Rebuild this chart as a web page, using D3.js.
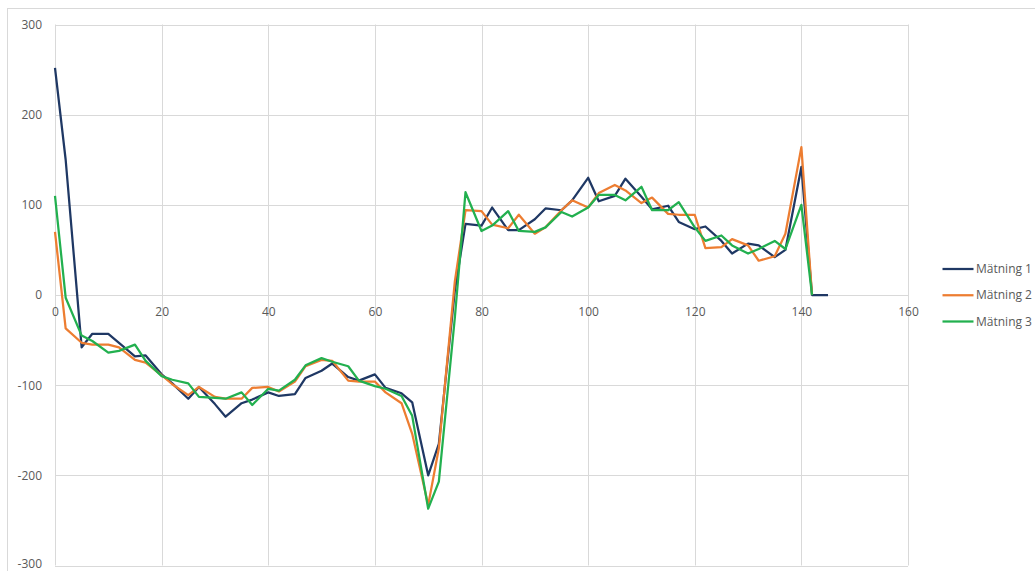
<!DOCTYPE html>
<html>
<head>
<meta charset="utf-8">
<script src="https://cdn.jsdelivr.net/npm/d3@7"></script>
<style>
  html, body { margin: 0; padding: 0; background: #fff; }
  svg { display: block; }
  text { font-family: "Open Sans", "Liberation Sans", sans-serif; fill: #595959; }
</style>
</head>
<body>
<svg id="chart" width="1035" height="571"></svg>
<script>
const xValues = [0,2,5,7,10,12,15,17,20,22,25,27,30,32,35,37,40,42,45,47,50,52,55,57,60,62,65,67,70,72,75,77,80,82,85,87,90,92,95,97,100,102,105,107,110,112,115,117,120,122,125,127,130,132,135,137,140,142,145];

const seriesNames = ["Mätning 1", "Mätning 2", "Mätning 3"];
const seriesColors = ["#1f3864", "#ed7d31", "#22b04f"];

const matning1 = [252,150,-58,-43,-43,-53,-68,-67,-88,-98,-115,-102,-121,-135,-120,-116,-108,-112,-110,-92,-84,-76,-91,-95,-88,-103,-109,-119,-200,-165,5,79,77,97,72,72,84,96,94,105,130,104,110,129,109,95,99,81,73,76,60,46,57,55,42,50,142,0,0];
const matning2 = [70,-37,-53,-55,-55,-58,-72,-75,-89,-99,-111,-102,-113,-115,-115,-103,-102,-107,-96,-79,-72,-73,-95,-96,-96,-108,-120,-154,-233,-170,15,94,93,78,74,89,68,75,94,105,97,113,122,116,102,108,90,89,89,52,53,62,55,38,43,68,164,0];
const matning3 = [110,-3,-45,-51,-64,-62,-55,-73,-90,-94,-98,-113,-114,-115,-108,-122,-104,-106,-94,-78,-70,-74,-79,-95,-101,-104,-112,-134,-237,-207,-25,114,71,77,93,71,70,75,92,87,97,111,111,105,120,94,94,103,75,60,66,55,46,51,60,51,100,0];

const xTicks = [0,20,40,60,80,100,120,140,160];
const yTicks = [-300,-200,-100,0,100,200,300];

const allSeries = [matning1, matning2, matning3];

const svg = d3.select("#chart");

// outer chart border
svg.append("rect")
  .attr("x", 7.5).attr("y", 8.5)
  .attr("width", 1100).attr("height", 700)
  .attr("fill", "none").attr("stroke", "#d9d9d9").attr("stroke-width", 1);

const x = d3.scaleLinear().domain([0, 160]).range([55, 908]);
const y = d3.scaleLinear().domain([-300, 300]).range([565.5, 24.5]);

// gridlines
const grid = svg.append("g");
grid.selectAll("line.v").data(xTicks).join("line")
  .attr("x1", d => Math.round(x(d)) + 0.5).attr("x2", d => Math.round(x(d)) + 0.5)
  .attr("y1", y(300)).attr("y2", y(-300))
  .attr("stroke", "#d9d9d9").attr("stroke-width", 1);
grid.selectAll("line.h").data(yTicks).join("line")
  .attr("x1", x(0)).attr("x2", x(160))
  .attr("y1", d => Math.round(y(d)) + 0.5).attr("y2", d => Math.round(y(d)) + 0.5)
  .attr("stroke", "#d9d9d9").attr("stroke-width", 1);

const fmt = d => String(d);

// y axis labels
const yAxis = d3.axisLeft(y).tickValues(yTicks).tickFormat(fmt).tickSize(0).tickPadding(13);
const gy = svg.append("g").attr("transform", `translate(${x(0)},0)`).call(yAxis);
gy.select(".domain").remove();
gy.selectAll("text").style("font-size", "12px").attr("fill", "#595959")
  .style("font-family", "'Open Sans', 'Liberation Sans', sans-serif");
gy.selectAll(".tick").filter(d => d === -300).select("text").attr("dy", "0.2em");

// x axis labels (at y = 0)
const xAxis = d3.axisBottom(x).tickValues(xTicks).tickFormat(fmt).tickSize(0).tickPadding(12);
const gx = svg.append("g").attr("transform", `translate(0,${y(0)})`).call(xAxis);
gx.select(".domain").remove();
gx.selectAll("text").style("font-size", "12px").attr("fill", "#595959")
  .style("font-family", "'Open Sans', 'Liberation Sans', sans-serif");

// lines
const line = d3.line()
  .x((d, i) => x(xValues[i]))
  .y(d => y(d));

svg.append("g").selectAll("path").data(allSeries).join("path")
  .attr("d", d => line(d))
  .attr("fill", "none")
  .attr("stroke", (d, i) => seriesColors[i])
  .attr("stroke-width", 2.25)
  .attr("stroke-linejoin", "round");

// legend
const legend = svg.append("g");
const legY = d3.scalePoint().domain(seriesNames).range([269, 321.5]);
seriesNames.forEach((name, i) => {
  const ly = legY(name);
  legend.append("line")
    .attr("x1", 942.5).attr("x2", 973.5)
    .attr("y1", ly).attr("y2", ly)
    .attr("stroke", seriesColors[i]).attr("stroke-width", 2.25);
  legend.append("text")
    .attr("x", 976).attr("y", ly).attr("dy", "0.35em")
    .style("font-size", "12px")
    .text(name);
});
</script>
</body>
</html>
